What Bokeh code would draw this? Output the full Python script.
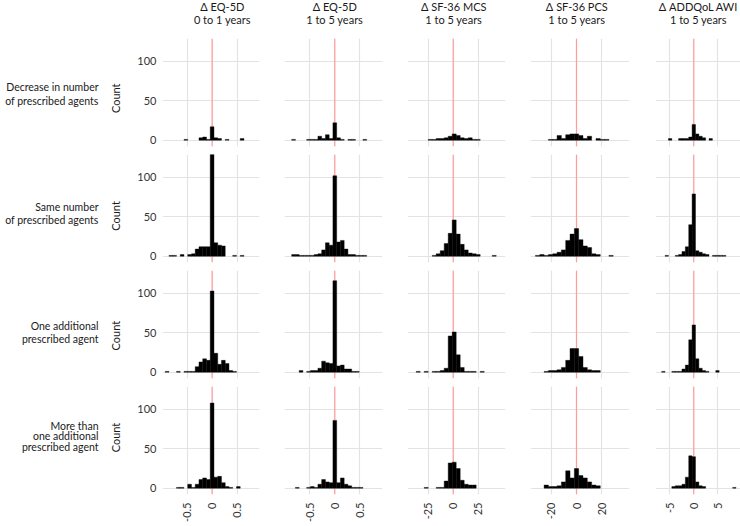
from math import pi
from bokeh.plotting import figure
from bokeh.layouts import gridplot
from bokeh.models import Range1d, FixedTicker, Span
from bokeh.embed import file_html
from bokeh.resources import INLINE
from bokeh.core.properties import value

# ---------------- data ----------------
title_line1 = ["Δ EQ-5D", "Δ EQ-5D", "Δ SF-36 MCS", "Δ SF-36 PCS", "Δ ADDQoL AWI"]
title_line2 = ["0 to 1 years", "1 to 5 years", "1 to 5 years", "1 to 5 years", "1 to 5 years"]

row_labels = [
    ["Decrease in number", "of prescribed agents"],
    ["Same number", "of prescribed agents"],
    ["One additional", "prescribed agent"],
    ["More than", "one additional", "prescribed agent"],
]
y_title = "Count"

# bin centres and widths per column
eq5d_0_1_bins = [-0.9, -0.825, -0.75, -0.675, -0.6, -0.525, -0.45, -0.375, -0.3, -0.225, -0.15,
                 -0.075, 0.0, 0.075, 0.15, 0.225, 0.3, 0.375, 0.45, 0.525, 0.6]
eq5d_1_5_bins = [-0.825, -0.75, -0.675, -0.6, -0.525, -0.45, -0.375, -0.3, -0.225, -0.15,
                 -0.075, 0.0, 0.075, 0.15, 0.225, 0.3, 0.375, 0.45, 0.525, 0.6]
mcs_bins = [-35, -31, -27, -23, -19, -15, -11, -7, -3, 1, 5, 9, 13, 17, 21, 25, 29, 33, 37, 41]
pcs_bins = [-30.6, -27.2, -23.8, -20.4, -17.0, -13.6, -10.2, -6.8, -3.4, 0.0, 3.4, 6.8, 10.2,
            13.6, 17.0, 20.4, 23.8, 27.2]
awi_bins = [-6.3, -5.6, -4.9, -4.2, -3.5, -2.8, -2.1, -1.4, -0.7, 0.0, 0.7, 1.4, 2.1, 2.8, 3.5,
            4.2, 4.9, 5.6, 6.3, 7.0, 7.7, 8.4]
bin_widths = [0.075, 0.075, 4, 3.4, 0.7]

# counts: one list per row (decrease, same, one more, more than one more)
eq5d_0_1_counts = [
    [0, 0, 0, 0, 0, 1, 0, 0, 0, 3, 4, 1, 17, 3, 2, 0, 1, 0, 0, 0, 2],
    [0, 1, 1, 0, 2, 0, 2, 3, 9, 12, 12, 12, 130, 17, 14, 13, 0, 0, 1, 0, 1],
    [1, 0, 0, 1, 0, 1, 1, 1, 7, 13, 17, 15, 103, 24, 10, 15, 11, 2, 1, 0, 0],
    [0, 0, 0, 1, 1, 0, 5, 1, 5, 11, 13, 11, 108, 14, 15, 7, 2, 1, 0, 2, 0],
]
eq5d_1_5_counts = [
    [1, 0, 0, 0, 1, 1, 1, 5, 2, 7, 2, 22, 3, 1, 0, 1, 1, 0, 0, 1],
    [2, 2, 1, 1, 1, 1, 2, 3, 8, 17, 14, 102, 18, 20, 9, 2, 2, 1, 1, 1],
    [0, 0, 2, 0, 1, 2, 2, 5, 14, 12, 11, 116, 8, 9, 4, 4, 1, 1, 0, 0],
    [0, 1, 0, 0, 1, 2, 1, 5, 11, 8, 7, 86, 7, 13, 5, 3, 1, 1, 1, 0],
]
mcs_counts = [
    [0, 0, 0, 1, 1, 2, 2, 3, 5, 8, 6, 3, 2, 3, 1, 1, 0, 0, 0, 0],
    [0, 0, 0, 0, 1, 3, 7, 16, 29, 46, 28, 15, 8, 4, 3, 2, 0, 0, 0, 1],
    [1, 0, 1, 0, 1, 1, 2, 5, 46, 51, 22, 6, 1, 1, 1, 0, 1, 0, 0, 0],
    [0, 0, 1, 0, 0, 1, 1, 9, 32, 33, 25, 10, 5, 4, 4, 0, 0, 0, 0, 0],
]
pcs_counts = [
    [0, 0, 0, 1, 1, 6, 2, 7, 8, 8, 6, 2, 5, 0, 2, 1, 1, 0],
    [1, 2, 1, 2, 3, 5, 8, 20, 28, 35, 21, 13, 11, 3, 2, 0, 0, 1],
    [0, 0, 1, 2, 2, 3, 6, 15, 30, 30, 20, 6, 3, 2, 2, 0, 0, 0],
    [0, 0, 4, 2, 2, 3, 8, 22, 13, 25, 16, 13, 8, 4, 3, 0, 0, 0],
]
awi_counts = [
    [0, 0, 2, 0, 0, 2, 2, 2, 4, 20, 8, 5, 3, 0, 2, 0, 0, 0, 0, 0, 0, 0],
    [0, 1, 0, 0, 1, 2, 6, 12, 40, 79, 7, 5, 3, 2, 0, 1, 1, 1, 1, 0, 0, 0],
    [1, 0, 0, 1, 1, 1, 4, 9, 41, 60, 17, 5, 2, 1, 0, 0, 2, 0, 0, 0, 0, 0],
    [0, 0, 0, 2, 3, 3, 5, 14, 41, 40, 8, 3, 2, 0, 0, 0, 0, 0, 0, 0, 0, 1],
]

x_ticks = [[-0.5, 0, 0.5], [-0.5, 0, 0.5], [-25, 0, 25], [-20, 0, 20], [-5, 0, 5]]
x_tick_labels = [["-0.5", "0", "0.5"], ["-0.5", "0", "0.5"], ["-25", "0", "25"],
                 ["-20", "0", "20"], ["-5", "0", "5"]]
y_ticks = [0, 50, 100]

all_bins = [eq5d_0_1_bins, eq5d_1_5_bins, mcs_bins, pcs_bins, awi_bins]
all_counts = [eq5d_0_1_counts, eq5d_1_5_counts, mcs_counts, pcs_counts, awi_counts]

# ---------------- layout / style ----------------
FONT = value("Lato")
x_limits = [(-0.992, 0.948), (-1.006, 0.954), (-45.7, 52.3), (-36.2, 41.7), (-7.93, 9.67)]
col_w = [130, 141, 123, 123, 124, 99]
col_bl = [0, 32, 13, 13, 13, 14]
col_br = [0, 12, 12, 12, 12, 0]
row_h = [38, 112, 116, 116, 144]
row_bt = [0, 0, 4, 4, 4]
row_bb = [0, 4, 4, 4, 32]
title_cx = [217, 334, 452, 575, 691]
label_cy = [95.5, 213, 333, 448]
count_cy = [100, 216, 336, 450]
GRID = "#e3e3e3"
RED = "#ff9c9c"
TXT = "#1a1a1a"

col_left = [sum(col_w[:i]) for i in range(6)]
row_top = [sum(row_h[:i]) for i in range(5)]

y_range = Range1d(-8, 129)
x_ranges = [Range1d(a, b) for a, b in x_limits]


def blank(w, h, xr, yr):
    p = figure(width=w, height=h, x_range=xr, y_range=yr, x_axis_type=None,
               y_axis_type=None, output_backend="svg", toolbar_location=None,
               min_border_left=0, min_border_right=0, min_border_top=0,
               min_border_bottom=0)
    p.outline_line_color = None
    p.background_fill_color = "white"
    p.border_fill_color = "white"
    return p


children = []

# header row (column titles)
hdr = [blank(col_w[0], row_h[0], Range1d(0, 1), Range1d(0, 1))]
for c in range(5):
    x0 = col_left[c + 1]
    p = blank(col_w[c + 1], row_h[0], Range1d(x0, x0 + col_w[c + 1]),
              Range1d(row_h[0], 0))
    p.text(x=[title_cx[c], title_cx[c]], y=[6, 18.5], text=[title_line1[c], title_line2[c]],
           text_font=FONT, text_font_size="11px", text_align="center",
           text_baseline="middle", text_color=TXT)
    hdr.append(p)
children.append(hdr)

for r in range(4):
    top = row_top[r + 1]
    h = row_h[r + 1]
    lab = blank(col_w[0], h, Range1d(0, col_w[0]), Range1d(top + h, top))
    lines = row_labels[r]
    n = len(lines)
    ys = [label_cy[r] + (i - (n - 1) / 2) * 14 for i in range(n)]
    lab.text(x=[98] * n, y=ys, text=lines, text_font=FONT, text_font_size="10.5px",
             text_align="right", text_baseline="middle", text_color=TXT)
    lab.text(x=[115], y=[count_cy[r]], text=[y_title], angle=pi / 2,
             text_font=FONT, text_font_size="11px", text_align="center",
             text_baseline="middle", text_color=TXT)
    row = [lab]
    for c in range(5):
        p = figure(width=col_w[c + 1], height=h, x_range=x_ranges[c], y_range=y_range,
                   output_backend="svg", toolbar_location=None,
                   min_border_left=col_bl[c + 1], min_border_right=col_br[c + 1],
                   min_border_top=row_bt[r + 1], min_border_bottom=row_bb[r + 1])
        p.outline_line_color = None
        p.background_fill_color = "white"
        p.border_fill_color = "white"
        p.xaxis.ticker = FixedTicker(ticks=x_ticks[c])
        p.yaxis.ticker = FixedTicker(ticks=y_ticks)
        p.xgrid.ticker = FixedTicker(ticks=x_ticks[c])
        p.ygrid.ticker = FixedTicker(ticks=y_ticks)
        p.grid.grid_line_color = GRID
        p.grid.grid_line_width = 1.2
        p.grid.minor_grid_line_color = None
        for ax in (p.xaxis, p.yaxis):
            ax.axis_line_color = None
            ax.major_tick_line_color = None
            ax.minor_tick_line_color = None
            ax.major_tick_out = 0
            ax.minor_tick_out = 0
            ax.major_tick_in = 0
            ax.minor_tick_in = 0
            ax.major_label_text_font = "Lato"
            ax.major_label_text_font_size = "11px"
            ax.major_label_text_color = "#333333"
        p.yaxis.major_label_standoff = 6
        p.xaxis.major_label_standoff = 8
        p.xaxis.major_label_orientation = pi / 2
        p.xaxis.major_label_overrides = {t: s for t, s in zip(x_ticks[c], x_tick_labels[c])}
        if r < 3:
            p.xaxis.visible = False
        if c > 0:
            p.yaxis.visible = False

        span = Span(location=0, dimension="height", line_color=RED, line_width=1.2,
                    level="underlay")
        p.add_layout(span)

        bins = all_bins[c]
        counts = all_counts[c][r]
        w = bin_widths[c]
        left = [b - w / 2 for b, n_ in zip(bins, counts) if n_ > 0]
        right = [b + w / 2 for b, n_ in zip(bins, counts) if n_ > 0]
        tops = [n_ for n_ in counts if n_ > 0]
        p.quad(left=left, right=right, bottom=0, top=tops, fill_color="black",
               line_color="black", line_width=0.4)
        row.append(p)
    children.append(row)

grid = gridplot(children, toolbar_location=None)

open("out.html", "w").write(file_html(grid, INLINE))
